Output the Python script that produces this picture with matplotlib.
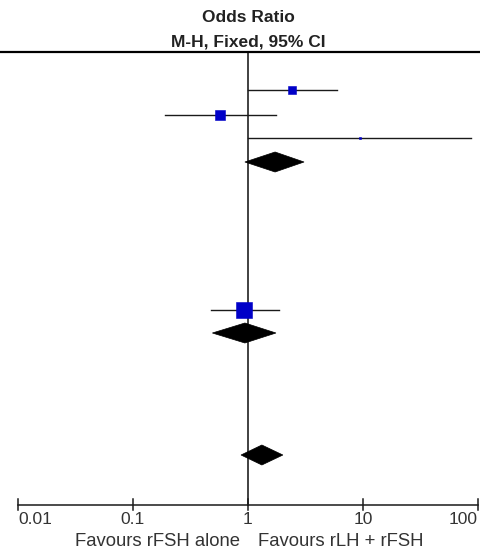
import numpy as np
import matplotlib
matplotlib.use("Agg")
import matplotlib.pyplot as plt
from matplotlib.patches import Polygon

plt.rcParams['font.family'] = ['Liberation Sans', 'DejaVu Sans']

# Individual study odds ratios (M-H, fixed) with 95% CI
study_or = [2.41, 0.57, 9.42, 0.92]
study_lo = [1.00, 0.19, 1.00, 0.48]
study_hi = [5.94, 1.75, 86.9, 1.86]
study_weight = [15.0, 24.0, 1.0, 64.0]
study_row = [90, 115, 138, 310]

# Pooled estimates (diamonds)
pooled_or = [1.72, 0.94, 1.32]
pooled_lo = [0.94, 0.49, 0.87]
pooled_hi = [3.07, 1.75, 2.01]
pooled_row = [162, 333, 455]

tick_values = [0.01, 0.1, 1, 10, 100]
tick_labels = ["0.01", "0.1", "1", "10", "100"]
favours_left = "Favours rFSH alone"
favours_right = "Favours rLH + rFSH"

W, H = 481, 553
fig = plt.figure(figsize=(W / 100, H / 100), dpi=100)
ax = fig.add_axes([0, 0, 1, 1])
ax.set_xscale('log')
# one decade spans 115 px, null line at x = 248 px
ax.set_xlim(10 ** (-248 / 115), 10 ** ((W - 248) / 115))
ax.set_ylim(H, 0)
ax.axis('off')

ink = '#1a1a1a'
blue = '#0000c8'

# titles
ax.text(1, 17, "Odds Ratio", ha='center', va='center', fontsize=12.5,
        fontweight='bold', color='#222222')
ax.text(1, 42, "M-H, Fixed, 95% CI", ha='center', va='center', fontsize=12.5,
        fontweight='bold', color='#222222')

# header rule
ax.plot(ax.get_xlim(), [52, 52], color='black', lw=1.6, solid_capstyle='butt')

# line of no effect
ax.plot([1, 1], [52, 505], color='#333333', lw=1.3, zorder=1)

# confidence intervals and weighted boxes
for o, lo, hi, w, y in zip(study_or, study_lo, study_hi, study_weight, study_row):
    ax.plot([lo, hi], [y, y], color=ink, lw=1.0, zorder=2)
    side = 2.0 * np.sqrt(w) * 72 / 100  # box side in points
    ax.plot([o], [y], marker='s', ms=side, mfc=blue, mec=blue, mew=0.4,
            ls='none', zorder=3)

# pooled diamonds
half_h = 10
for o, lo, hi, y in zip(pooled_or, pooled_lo, pooled_hi, pooled_row):
    poly = Polygon([(lo, y), (o, y - half_h), (hi, y), (o, y + half_h)],
                   closed=True, facecolor='black', edgecolor='black', lw=0.5,
                   zorder=3)
    ax.add_patch(poly)

# bottom scale
ax.plot([tick_values[0], tick_values[-1]], [505, 505], color=ink, lw=1.1)
aligns = ['left', 'center', 'center', 'center', 'right']
for v, lab, ha in zip(tick_values, tick_labels, aligns):
    ax.plot([v, v], [499, 510], color=ink, lw=1.1)
    ax.text(v, 519, lab, ha=ha, va='center', fontsize=12.5, color='#333333')

ax.text(10 ** ((158 - 248) / 115), 542, favours_left, ha='center', va='center',
        fontsize=13.3, color='#333333')
ax.text(10 ** ((341 - 248) / 115), 542, favours_right, ha='center', va='center',
        fontsize=13.3, color='#333333')

fig.savefig("out.png", dpi=100)
